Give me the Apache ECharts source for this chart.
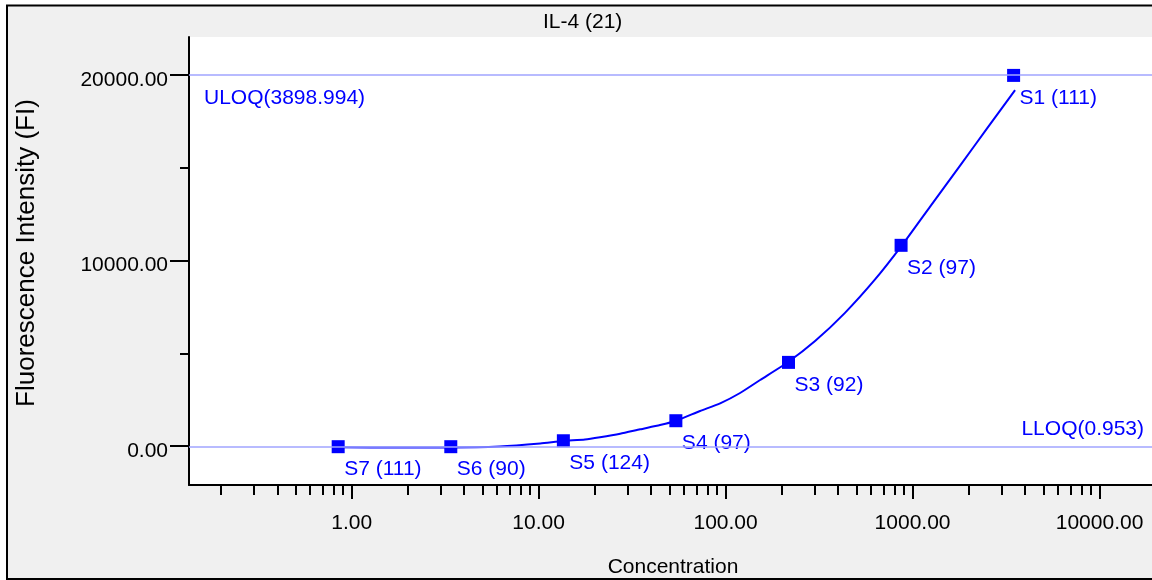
<!DOCTYPE html>
<html>
<head>
<meta charset="utf-8">
<script src="https://cdn.jsdelivr.net/npm/echarts@6/dist/echarts.min.js"></script>
<style>
  html, body { margin: 0; padding: 0; background: #fff; }
  #chart { width: 1152px; height: 580px; }
</style>
</head>
<body>
<div id="chart"></div>
<script>
// Standards: name, bead count, concentration, fluorescence intensity
const standardNames  = ['S1', 'S2', 'S3', 'S4', 'S5', 'S6', 'S7'];
const standardCounts = [111, 97, 92, 97, 124, 90, 111];
const standardConc   = [3470, 868, 217, 54.2, 13.56, 3.39, 0.847];
const standardFI     = [19980, 10820, 4510, 1365, 285, -35, -35];

// Fitted standard curve, read along its length
const curveConc = [0.847, 1.82, 3.36, 6.2, 10.2, 13.4, 17.7, 21.3, 27.3, 34.9, 44.6, 54.4, 73,
                   93.5, 119.5, 153, 216, 301, 435, 630, 879, 1241, 1795, 2503, 3533];
const curveFI   = [-70, -75, -75, -25, 135, 270, 350, 470, 660, 900, 1130, 1365, 1890,
                   2300, 2860, 3560, 4530, 5660, 7180, 8980, 10830, 12910, 15120, 17120, 19190];

// Quantitation limits drawn as horizontal reference lines
const limitLabels = ['ULOQ(3898.994)', 'LLOQ(0.953)'];
const limitFI     = [20000, -20];

// Axis ticks
const xMajorTicks = [1, 10, 100, 1000, 10000];
const xMinorTicks = [0.2, 0.3, 0.4, 0.5, 0.6, 0.7, 0.8, 0.9,
                     2, 3, 4, 5, 6, 7, 8, 9,
                     20, 30, 40, 50, 60, 70, 80, 90,
                     200, 300, 400, 500, 600, 700, 800, 900,
                     2000, 3000, 4000, 5000, 6000, 7000, 8000, 9000, 20000];
const yMajorTicks = [0, 10000, 20000];
const yMinorTicks = [5000, 15000];

const X_MIN = 0.1349, X_MAX = 20290;
const Y_MIN = -2100, Y_MAX = 22050;

const FONT = "'Liberation Sans', Arial, sans-serif";
const BLUE = '#0000ff';

const curveData = curveConc.map((c, i) => [c, curveFI[i]]);
const standardData = standardConc.map((c, i) => ({
  name: standardNames[i],
  value: [c, standardFI[i]],
  count: standardCounts[i]
}));

const chart = echarts.init(document.getElementById('chart'), null, { renderer: 'canvas' });

const xAxisBase = {
  type: 'log', logBase: 10, min: X_MIN, max: X_MAX, position: 'bottom',
  splitLine: { show: false }
};
const yAxisBase = {
  type: 'value', min: Y_MIN, max: Y_MAX, position: 'left',
  splitLine: { show: false }
};

chart.setOption({
  animation: false,
  backgroundColor: '#f0f0f0',
  textStyle: { fontFamily: FONT },
  title: {
    text: 'IL-4 (21)',
    left: 538, top: 7,
    textStyle: { fontSize: 21, fontWeight: 'normal', color: '#000', fontFamily: FONT }
  },
  grid: {
    left: 189, top: 37, right: -5, bottom: 95,
    containLabel: false,
    outerBoundsMode: 'none',
    show: true, backgroundColor: '#fff', borderWidth: 0
  },
  xAxis: [
    Object.assign({}, xAxisBase, {
      name: 'Concentration', nameLocation: 'middle', nameGap: 72,
      nameTextStyle: { fontSize: 21, color: '#000', fontFamily: FONT },
      axisLine: { show: true, onZero: false, lineStyle: { color: '#000', width: 2 } },
      axisTick: { show: true, length: 14, lineStyle: { color: '#000', width: 2 }, customValues: xMajorTicks },
      axisLabel: {
        show: true, customValues: xMajorTicks, margin: 28,
        fontSize: 21, color: '#000', fontFamily: FONT,
        formatter: v => Number(v).toFixed(2)
      }
    }),
    Object.assign({}, xAxisBase, {
      axisLine: { show: false, onZero: false },
      axisTick: { show: true, length: 10, lineStyle: { color: '#000', width: 2 }, customValues: xMinorTicks },
      axisLabel: { show: false }
    })
  ],
  yAxis: [
    Object.assign({}, yAxisBase, {
      name: 'Fluorescence Intensity (FI)', nameLocation: 'middle', nameGap: 149,
      nameTextStyle: { fontSize: 26, color: '#000', fontFamily: FONT, padding: [0, 0, 0, 16] },
      axisLine: { show: true, onZero: false, lineStyle: { color: '#000', width: 2 } },
      axisTick: { show: true, length: 19, lineStyle: { color: '#000', width: 2 }, customValues: yMajorTicks },
      axisLabel: {
        show: true, customValues: yMajorTicks, margin: 21,
        fontSize: 21, color: '#000', fontFamily: FONT,
        formatter: v => '{t|' + Number(v).toFixed(2) + '}',
        rich: { t: { fontSize: 21, color: '#000', fontFamily: FONT, padding: [10, 0, 0, 0] } }
      }
    }),
    Object.assign({}, yAxisBase, {
      axisLine: { show: false, onZero: false },
      axisTick: { show: true, length: 9, lineStyle: { color: '#000', width: 2 }, customValues: yMinorTicks },
      axisLabel: { show: false }
    })
  ],
  series: [
    {
      name: 'curve',
      type: 'line',
      xAxisIndex: 0, yAxisIndex: 0,
      data: curveData,
      showSymbol: false,
      smooth: 0.2,
      lineStyle: { color: BLUE, width: 2 },
      emphasis: { disabled: true },
      z: 3,
      markLine: {
        silent: true,
        symbol: ['none', 'none'],
        lineStyle: { color: '#a0a4ff', width: 1.5, type: 'solid' },
        emphasis: { disabled: true },
        data: [
          {
            yAxis: limitFI[0],
            label: {
              show: true, formatter: limitLabels[0], position: 'insideStartBottom',
              distance: [15, 13], color: BLUE, fontSize: 21, fontFamily: FONT
            }
          },
          {
            yAxis: limitFI[1],
            label: {
              show: true, formatter: limitLabels[1], position: 'insideEndTop',
              distance: [13, 7], color: BLUE, fontSize: 21, fontFamily: FONT
            }
          }
        ]
      }
    },
    {
      name: 'standards',
      type: 'scatter',
      xAxisIndex: 0, yAxisIndex: 0,
      data: standardData,
      symbol: 'rect',
      symbolSize: 13,
      itemStyle: { color: BLUE, opacity: 1 },
      emphasis: { disabled: true },
      z: 4,
      label: {
        show: true,
        position: [12.5, 29],
        align: 'left', verticalAlign: 'middle',
        color: BLUE, fontSize: 21, fontFamily: FONT,
        formatter: p => p.name + ' (' + p.data.count + ')'
      }
    }
  ],
  graphic: [
    { type: 'rect', z: 100, silent: true, shape: { x: 0, y: 0, width: 1152, height: 5 }, style: { fill: '#fff' } },
    { type: 'rect', z: 100, silent: true, shape: { x: 0, y: 0, width: 6, height: 580 }, style: { fill: '#fff' } },
    {
      type: 'polyline', z: 101, silent: true,
      shape: { points: [[1160, 5.5], [7, 5.5], [7, 579], [1160, 579]] },
      style: { stroke: '#000', lineWidth: 2, fill: null }
    }
  ]
});
</script>
</body>
</html>
